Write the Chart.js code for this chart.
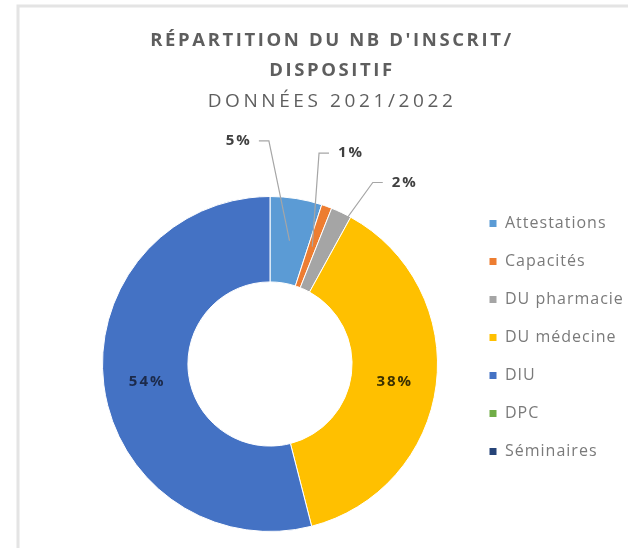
<!DOCTYPE html>
<html>
<head>
<meta charset="utf-8">
<script src="https://cdn.jsdelivr.net/npm/chart.js@4.4.1/dist/chart.umd.min.js"></script>
<style>
  html, body { margin: 0; padding: 0; background: #ffffff; }
  #wrap { width: 628px; height: 548px; }
</style>
</head>
<body>
<div id="wrap"><canvas id="c" width="628" height="548"></canvas></div>
<script>
// ---- data ----
const categories = ['Attestations', 'Capacités', 'DU pharmacie', 'DU médecine', 'DIU', 'DPC', 'Séminaires'];
const values = [5, 1, 2, 38, 54, 0, 0];
const valueLabels = ['5%', '1%', '2%', '38%', '54%', '', ''];
const sliceColors = ['#5B9BD5', '#ED7D31', '#A5A5A5', '#FFC000', '#4472C4', '#70AD47', '#264478'];
const titleLines = ["RÉPARTITION DU NB D'INSCRIT/", 'DISPOSITIF'];
const subtitleText = 'DONNÉES 2021/2022';

const FONT = '"Open Sans", "Noto Sans", sans-serif';

// light frame like the source screenshot
const framePlugin = {
  id: 'frame',
  beforeDraw(chart) {
    const ctx = chart.ctx;
    ctx.save();
    ctx.strokeStyle = '#e4e4e4';
    ctx.lineWidth = 3;
    ctx.beginPath();
    ctx.moveTo(18, 548);
    ctx.lineTo(18, 6);
    ctx.lineTo(628, 6);
    ctx.stroke();
    ctx.restore();
  }
};

function addSpacing(box, px) {
  if (box.__spaced) return;
  const orig = box.draw;
  box.draw = function (...a) {
    const ctx = this.ctx;
    const prev = ctx.letterSpacing;
    ctx.letterSpacing = px + 'px';
    orig.apply(this, a);
    ctx.letterSpacing = prev || '0px';
  };
  box.__spaced = true;
}

// place title block and legend like the original layout
const placePlugin = {
  id: 'place',
  afterLayout(chart, args, opts) {
    chart.boxes.forEach(b => {
      if (b.options && b.options.position === 'top') {
        b.left = opts.titleLeft;
        b.right = opts.titleRight;
        addSpacing(b, b.options.text === subtitleText ? opts.subtitleSpacing : opts.titleSpacing);
      }
    });
    const lg = chart.legend;
    if (lg) {
      lg.left = opts.legendLeft;
      lg.right = opts.legendLeft + 160;
      lg.top = opts.legendTop;
      lg.bottom = 548;
      lg.width = 160;
      lg.height = 548 - opts.legendTop;
      addSpacing(lg, opts.legendSpacing);
    }
  }
};

// percentage labels (inside for big slices, outside with leader lines for small ones)
const sliceLabelPlugin = {
  id: 'sliceLabels',
  afterDatasetsDraw(chart, args, opts) {
    const ctx = chart.ctx;
    const meta = chart.getDatasetMeta(0);
    const data = chart.data.datasets[0].data;
    ctx.save();
    ctx.font = 'bold ' + opts.fontSize + 'px ' + FONT;
    ctx.textAlign = 'center';
    ctx.textBaseline = 'middle';
    meta.data.forEach((arc, i) => {
      const v = data[i];
      if (!v) return;
      const p = arc.getProps(['x', 'y', 'startAngle', 'endAngle', 'innerRadius', 'outerRadius'], true);
      const mid = (p.startAngle + p.endAngle) / 2;
      const rMid = (p.innerRadius + p.outerRadius) / 2;
      const text = valueLabels[i];
      const px = p.x + Math.cos(mid) * rMid;
      const py = p.y + Math.sin(mid) * rMid;
      ctx.letterSpacing = opts.spacing + 'px';
      if (v >= opts.insideMin) {
        ctx.fillStyle = opts.insideColors[i] || '#333';
        ctx.fillText(text, px + opts.spacing / 2, py + 2);
      } else {
        const la = mid + (opts.angleShift[i] || 0) * Math.PI / 180;
        const lr = p.outerRadius + opts.outsideGap;
        const tx = p.x + Math.cos(la) * lr;
        const ty = p.y + Math.sin(la) * lr;
        const w = ctx.measureText(text).width;
        const side = tx < px ? 1 : -1;
        const sx = tx + side * (w / 2 + opts.lineGap);
        const ex = sx + side * 10;
        ctx.strokeStyle = opts.lineColor;
        ctx.lineWidth = 1.2;
        ctx.beginPath();
        ctx.moveTo(sx, ty);
        ctx.lineTo(ex, ty);
        ctx.lineTo(px, py);
        ctx.stroke();
        ctx.fillStyle = opts.outsideColor;
        ctx.fillText(text, tx + opts.spacing / 2, ty);
      }
    });
    ctx.letterSpacing = '0px';
    ctx.restore();
  }
};

new Chart(document.getElementById('c'), {
  type: 'doughnut',
  data: {
    labels: categories,
    datasets: [{
      data: values,
      backgroundColor: sliceColors,
      borderColor: '#ffffff',
      borderWidth: 1
    }]
  },
  options: {
    responsive: false,
    animation: false,
    cutout: '49%',
    layout: { padding: { left: 102, right: 190, top: 0, bottom: 16 } },
    plugins: {
      title: {
        display: true,
        text: titleLines,
        color: '#5e5e5e',
        font: { family: FONT, size: 18.5, weight: 'bold', lineHeight: 30 / 18.5 },
        padding: { top: 26, bottom: 5 }
      },
      subtitle: {
        display: true,
        text: subtitleText,
        color: '#5e5e5e',
        font: { family: FONT, size: 19, weight: 'normal', lineHeight: 22 / 19 },
        padding: { top: 0, bottom: 83 }
      },
      legend: {
        display: true,
        position: 'chartArea',
        align: 'start',
        labels: {
          boxWidth: 8,
          boxHeight: 8,
          padding: 22,
          color: '#7a7a7a',
          font: { family: FONT, size: 16 }
        }
      },
      tooltip: { enabled: false },
      place: {
        titleLeft: 2, titleRight: 662, legendLeft: 467, legendTop: 193.5,
        titleSpacing: 2.6, subtitleSpacing: 3.6, legendSpacing: 1
      },
      sliceLabels: {
        fontSize: 15,
        spacing: 2,
        insideMin: 10,
        insideColors: ['#333', '#333', '#333', '#3a3000', '#1c2a4a'],
        outsideColor: '#404040',
        lineColor: '#a6a6a6',
        outsideGap: 58,
        lineGap: 8,
        angleShift: [-17.2, 1.0, 11.2]
      }
    }
  },
  plugins: [framePlugin, placePlugin, sliceLabelPlugin]
});
</script>
</body>
</html>
